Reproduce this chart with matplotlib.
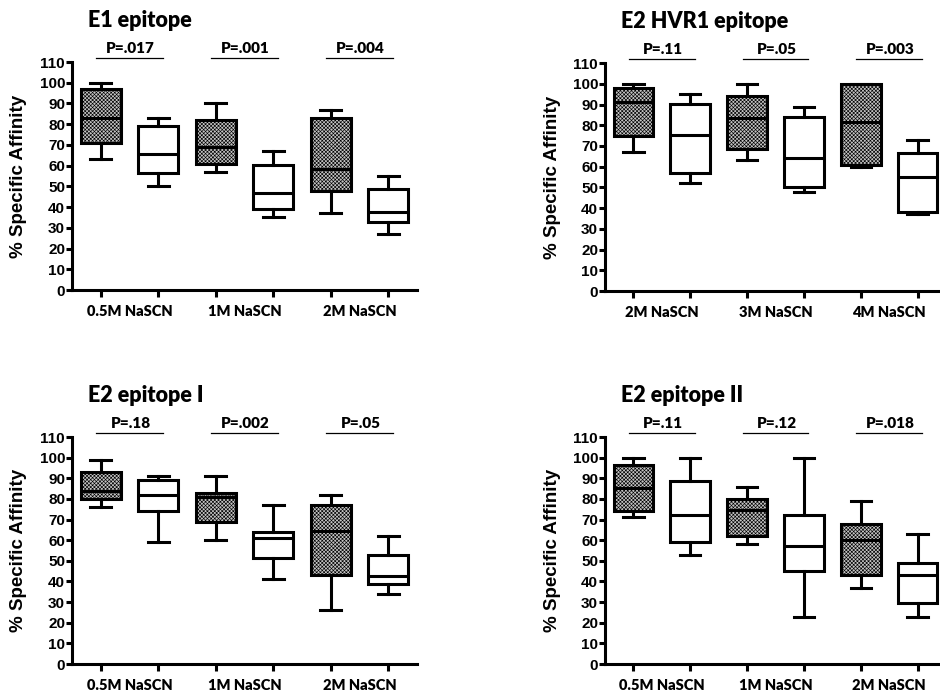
import matplotlib as mpl
import matplotlib.pyplot as plt

mpl.rcParams['font.family'] = 'Liberation Sans'
mpl.rcParams['font.weight'] = 'bold'
mpl.rcParams['hatch.linewidth'] = 0.45

# ------- DATA ------- #
# box stats, left -> right: whisker low, q1, median, q3, whisker high
e1_low = [63, 50, 57, 35, 37, 27]
e1_q1 = [71, 56.5, 60.7, 39, 48, 33]
e1_med = [83, 65.5, 69, 47, 58.3, 37.6]
e1_q3 = [97, 79, 82.2, 60.5, 83, 48.5]
e1_high = [100, 83, 90, 67, 87, 55]

hvr1_low = [67, 52, 63, 48, 60, 37]
hvr1_q1 = [75, 57.2, 68.7, 50.3, 60.7, 38.2]
hvr1_med = [91, 75.5, 83.5, 64, 81.6, 54.8]
hvr1_q3 = [98, 90.4, 94.1, 84, 100, 66.8]
hvr1_high = [100, 95, 100, 89, 100, 73]

e2i_low = [76, 59, 60, 41, 26, 34]
e2i_q1 = [80, 74, 69, 51.2, 43, 39]
e2i_med = [84, 82, 81, 61, 64.5, 42.5]
e2i_q3 = [93, 89, 83, 64, 77, 52.7]
e2i_high = [99, 91, 91, 77, 82, 62]

e2ii_low = [71, 53, 58, 23, 37, 23]
e2ii_q1 = [74, 59, 62, 45, 43, 29.5]
e2ii_med = [85.5, 72, 74.5, 57, 60, 43]
e2ii_q3 = [96.5, 88.5, 80, 72.4, 68, 49]
e2ii_high = [100, 100, 86, 100, 79, 63]

cond_e1 = ['0.5M NaSCN', '1M NaSCN', '2M NaSCN']
cond_hvr1 = ['2M NaSCN', '3M NaSCN', '4M NaSCN']

p_e1 = ['P=.017', 'P=.001', 'P=.004']
p_hvr1 = ['P=.11', 'P=.05', 'P=.003']
p_e2i = ['P=.18', 'P=.002', 'P=.05']
p_e2ii = ['P=.11', 'P=.12', 'P=.018']

label_font = 'Lato'
lw = 2.2


# ------- PLOT ONE PANEL ------- #
def plot_panel(ax, low, q1, med, q3, high, title, conditions, pvals):
    stats = [dict(whislo=a, q1=b, med=c, q3=d, whishi=e, fliers=[])
             for a, b, c, d, e in zip(low, q1, med, q3, high)]
    pos = list(range(1, len(stats) + 1))
    bp = ax.bxp(stats, positions=pos, widths=0.7, capwidths=0.36,
                patch_artist=True, showfliers=False,
                boxprops=dict(lw=lw, edgecolor='black'),
                whiskerprops=dict(lw=lw, color='black'),
                capprops=dict(lw=lw, color='black'),
                medianprops=dict(lw=lw, color='black'))
    # first box of each pair is the textured one
    for i, box in enumerate(bp['boxes']):
        if i % 2 == 0:
            box.set_facecolor('#c4c4c4')
            box.set_hatch('x' * 9)
        else:
            box.set_facecolor('white')

    ax.set_xlim(0.5, 6.5)
    ax.set_ylim(0, 110)

    # spines
    for spine in ['top', 'right']:
        ax.spines[spine].set_visible(False)
    for spine in ['left', 'bottom']:
        ax.spines[spine].set_linewidth(lw)

    # ticks
    ax.set_yticks(range(0, 111, 10))
    ax.tick_params(axis='y', which='major', labelsize=11, length=4,
                   width=lw, pad=1)
    ax.set_xticks(pos)
    ax.set_xticklabels([])
    ax.tick_params(axis='x', which='major', length=5, width=lw)
    ax.set_xticks([1.5, 3.5, 5.5], minor=True)
    ax.set_xticklabels(conditions, minor=True, fontsize=10.5,
                       family=label_font, fontweight='heavy')
    ax.tick_params(axis='x', which='minor', length=0, pad=11)

    ax.set_ylabel('% Specific Affinity', fontsize=13.5, fontweight='bold')
    ax.yaxis.set_label_coords(-0.13, 0.5)

    # p-value brackets
    for k, p in enumerate(pvals):
        x1, x2 = pos[2 * k], pos[2 * k + 1]
        ax.plot([x1 - 0.08, x2 + 0.08], [112, 112], color='black',
                lw=0.9, clip_on=False)
        ax.text((x1 + x2) / 2 + 0.02, 116.7, p, ha='center', va='center',
                fontsize=11, family=label_font, fontweight='heavy')

    ax.text(0.78, 130, title, ha='left', va='center', fontsize=15.5,
            family=label_font, fontweight='heavy')


fig = plt.figure(figsize=(9.4, 6.93), dpi=100)
fig.set_facecolor('white')

ax1 = fig.add_axes([0.0766, 0.5815, 0.367, 0.329])
ax2 = fig.add_axes([0.6436, 0.580, 0.3628, 0.329])
ax3 = fig.add_axes([0.0766, 0.0418, 0.367, 0.3276])
ax4 = fig.add_axes([0.6436, 0.0418, 0.3628, 0.3276])

plot_panel(ax1, e1_low, e1_q1, e1_med, e1_q3, e1_high,
           'E1 epitope', cond_e1, p_e1)
plot_panel(ax2, hvr1_low, hvr1_q1, hvr1_med, hvr1_q3, hvr1_high,
           'E2 HVR1 epitope', cond_hvr1, p_hvr1)
plot_panel(ax3, e2i_low, e2i_q1, e2i_med, e2i_q3, e2i_high,
           'E2 epitope I', cond_e1, p_e2i)
plot_panel(ax4, e2ii_low, e2ii_q1, e2ii_med, e2ii_q3, e2ii_high,
           'E2 epitope II', cond_e1, p_e2ii)

plt.savefig('out.png', dpi=100)
